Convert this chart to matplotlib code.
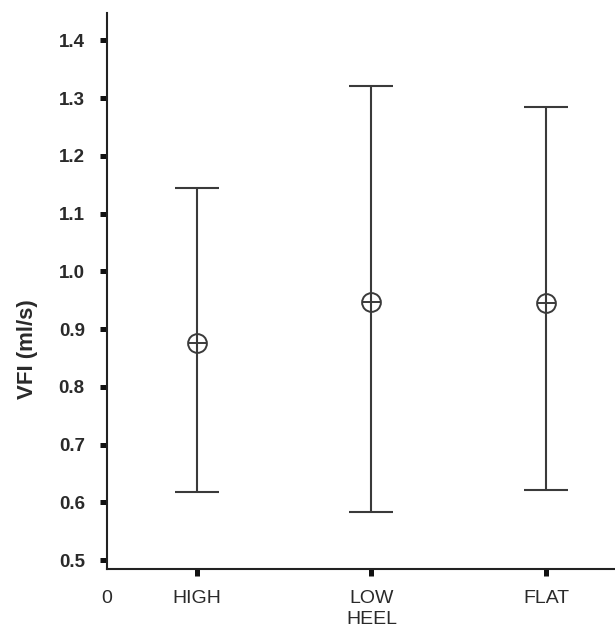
import matplotlib.pyplot as plt

# Data
groups = ['HIGH', 'LOW\nHEEL', 'FLAT']
means = [0.875, 0.947, 0.945]
upper = [1.144, 1.320, 1.285]
lower = [0.618, 0.583, 0.621]
yticks = [0.5, 0.6, 0.7, 0.8, 0.9, 1.0, 1.1, 1.2, 1.3, 1.4]

plt.rcParams['font.family'] = ['Liberation Sans', 'DejaVu Sans']
col = '#3a3a3a'
txt = '#2a2a2a'

fig = plt.figure(figsize=(6.15, 6.33), dpi=100)
ax = fig.add_axes([0.174, 0.101, 0.826, 0.878])

x = [1, 2, 3]
err_lo = [m - l for m, l in zip(means, lower)]
err_hi = [u - m for m, u in zip(means, upper)]
ax.errorbar(x, means, yerr=[err_lo, err_hi], fmt='none', ecolor=col,
            elinewidth=1.5, capsize=16, capthick=1.5)
ax.plot(x, means, 'o', ms=13.5, mfc='none', mec=col, mew=1.4)
ax.plot(x, means, '_', ms=13.5, mec=col, mew=1.4)

x0 = 0.486
ax.set_xlim(x0, 3.395)
ax.set_ylim(0.4844, 1.4467)

ax.set_yticks(yticks)
ax.set_yticklabels(['%.1f' % v for v in yticks])
ax.set_xticks([x0] + x)
ax.set_xticklabels(['0'] + groups, linespacing=1.35)
ax.xaxis.get_major_ticks()[0].tick1line.set_visible(False)

ax.tick_params(axis='both', direction='out', length=5, width=3.6, color='#111111',
               labelcolor=txt)
ax.tick_params(axis='y', pad=11, labelsize=13.5)
ax.tick_params(axis='x', pad=10, labelsize=14)
for lab in ax.get_yticklabels():
    lab.set_fontweight('bold')

for s in ['top', 'right']:
    ax.spines[s].set_visible(False)
for s in ['left', 'bottom']:
    ax.spines[s].set_linewidth(1.5)
    ax.spines[s].set_color('#222222')

ax.set_ylabel('VFI (ml/s)', fontsize=16, color=txt, fontweight='bold')
ax.yaxis.set_label_coords(-0.135, 0.395)

fig.savefig('out.png', dpi=100)
